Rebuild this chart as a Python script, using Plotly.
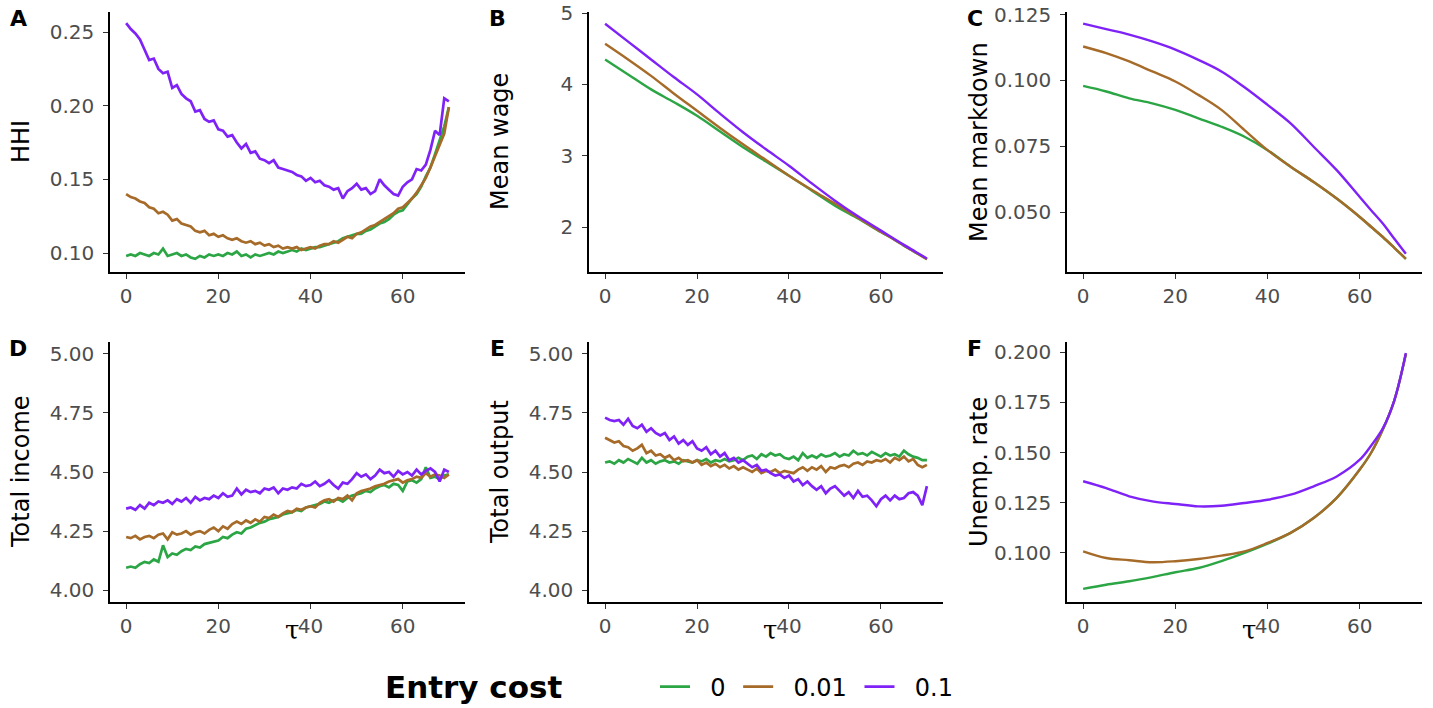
import plotly.graph_objects as go
from plotly.subplots import make_subplots

# entry cost levels and colours
levels = ["0", "0.01", "0.1"]
colors = ["#2CA545", "#A66B28", "#7F22F7"]

tau = list(range(0, 71))
tau_s = [0, 5, 10, 15, 20, 25, 30, 35, 40, 45, 50, 55, 60, 62.5, 65, 67.5, 70]

# A: HHI
hhi_0 = [.098, .099, .098, .100, .099, .098, .100, .099, .103, .098,
         .099, .100, .098, .099, .097, .096, .098, .097, .099, .098,
         .099, .098, .100, .099, .101, .098, .099, .097, .099, .098,
         .099, .100, .099, .101, .100, .101, .102, .101, .103, .102,
         .103, .104, .104, .105, .106, .107, .108, .110, .111, .112,
         .113, .113, .115, .116, .118, .120, .121, .123, .126, .128,
         .129, .133, .137, .140, .145, .152, .158, .167, .176, .186, .199]
hhi_001 = [.140, .138, .137, .135, .134, .131, .130, .127, .128, .126,
           .122, .123, .120, .119, .118, .115, .114, .115, .112, .113,
           .111, .112, .110, .109, .110, .108, .107, .108, .106, .107,
           .105, .106, .104, .105, .103, .104, .103, .104, .102, .103,
           .104, .103, .105, .106, .106, .108, .107, .109, .111, .110,
           .113, .114, .116, .118, .119, .121, .123, .125, .127, .130,
           .131, .134, .137, .141, .146, .151, .158, .166, .174, .181, .199]
hhi_01 = [.256, .252, .249, .245, .238, .231, .232, .225, .222, .223,
          .212, .214, .208, .205, .203, .196, .197, .191, .189, .190,
          .184, .183, .179, .180, .175, .171, .174, .168, .169, .164,
          .163, .161, .163, .158, .157, .156, .155, .153, .152, .149,
          .151, .148, .149, .146, .145, .143, .144, .137, .142, .144,
          .147, .143, .144, .140, .142, .150, .146, .143, .140, .139,
          .145, .148, .150, .157, .156, .160, .170, .183, .180, .205, .203]

# B: mean wage
wage_0 = [4.35, 4.14, 3.93, 3.75, 3.56, 3.34, 3.12, 2.92, 2.72, 2.51, 2.30, 2.12, 1.93, 1.84, 1.74, 1.645, 1.55]
wage_001 = [4.57, 4.35, 4.12, 3.87, 3.63, 3.39, 3.16, 2.94, 2.72, 2.52, 2.33, 2.13, 1.93, 1.84, 1.74, 1.645, 1.55]
wage_01 = [4.85, 4.60, 4.35, 4.10, 3.86, 3.59, 3.33, 3.09, 2.86, 2.61, 2.37, 2.15, 1.95, 1.85, 1.75, 1.655, 1.56]

# C: mean markdown
mark_0 = [.0979, .0958, .0932, .0913, .0888, .0856, .0824, .0786, .0735, .0672, .0614, .0551, .0481, .0443, .0405, .0364, .0322]
mark_001 = [.1129, .1104, .1072, .1034, .0996, .0945, .0888, .0811, .0735, .0672, .0614, .0551, .0481, .0443, .0405, .0364, .0322]
mark_01 = [.1216, .1195, .1174, .1148, .1117, .1078, .1034, .0974, .0907, .0837, .0748, .0659, .0557, .0506, .0456, .0398, .0341]

# D: total income
inc_0 = [4.095, 4.100, 4.095, 4.110, 4.120, 4.115, 4.130, 4.120, 4.190, 4.140,
         4.155, 4.150, 4.165, 4.175, 4.170, 4.185, 4.180, 4.195, 4.200, 4.205,
         4.210, 4.225, 4.220, 4.235, 4.245, 4.240, 4.260, 4.265, 4.275, 4.285,
         4.290, 4.300, 4.305, 4.310, 4.320, 4.325, 4.330, 4.340, 4.335, 4.350,
         4.355, 4.360, 4.365, 4.375, 4.370, 4.380, 4.385, 4.375, 4.390, 4.400,
         4.405, 4.410, 4.420, 4.415, 4.430, 4.440, 4.445, 4.435, 4.450, 4.445,
         4.420, 4.460, 4.465, 4.455, 4.470, 4.520, 4.475, 4.480, 4.470, 4.485, 4.490]
inc_001 = [4.225, 4.220, 4.230, 4.215, 4.225, 4.230, 4.220, 4.235, 4.240, 4.215,
           4.245, 4.235, 4.240, 4.250, 4.235, 4.245, 4.250, 4.240, 4.255, 4.265,
           4.250, 4.270, 4.260, 4.280, 4.290, 4.280, 4.295, 4.285, 4.300, 4.290,
           4.310, 4.305, 4.320, 4.310, 4.325, 4.335, 4.330, 4.345, 4.340, 4.350,
           4.355, 4.350, 4.370, 4.380, 4.385, 4.375, 4.390, 4.385, 4.400, 4.380,
           4.410, 4.420, 4.425, 4.430, 4.440, 4.445, 4.450, 4.460, 4.465, 4.470,
           4.455, 4.465, 4.470, 4.480, 4.475, 4.495, 4.480, 4.490, 4.485, 4.475, 4.490]
inc_01 = [4.345, 4.350, 4.340, 4.360, 4.345, 4.370, 4.360, 4.375, 4.370, 4.380,
          4.365, 4.385, 4.375, 4.390, 4.370, 4.395, 4.380, 4.390, 4.385, 4.400,
          4.390, 4.410, 4.395, 4.400, 4.430, 4.405, 4.425, 4.415, 4.420, 4.410,
          4.430, 4.425, 4.435, 4.410, 4.430, 4.425, 4.435, 4.430, 4.450, 4.440,
          4.445, 4.460, 4.440, 4.450, 4.465, 4.445, 4.430, 4.455, 4.450, 4.470,
          4.495, 4.480, 4.490, 4.470, 4.485, 4.510, 4.495, 4.500, 4.480, 4.505,
          4.490, 4.500, 4.485, 4.510, 4.490, 4.505, 4.515, 4.500, 4.460, 4.510, 4.500]

# E: total output
out_0 = [4.540, 4.545, 4.535, 4.550, 4.540, 4.555, 4.545, 4.535, 4.560, 4.540,
         4.550, 4.535, 4.545, 4.550, 4.540, 4.545, 4.535, 4.550, 4.545, 4.540,
         4.550, 4.545, 4.555, 4.540, 4.550, 4.545, 4.555, 4.545, 4.550, 4.560,
         4.550, 4.565, 4.570, 4.555, 4.575, 4.565, 4.580, 4.570, 4.575, 4.560,
         4.555, 4.565, 4.550, 4.580, 4.560, 4.570, 4.560, 4.575, 4.565, 4.570,
         4.580, 4.565, 4.575, 4.570, 4.590, 4.575, 4.580, 4.570, 4.585, 4.575,
         4.565, 4.580, 4.570, 4.575, 4.565, 4.590, 4.575, 4.565, 4.560, 4.550, 4.550]
out_001 = [4.645, 4.635, 4.625, 4.630, 4.610, 4.605, 4.590, 4.600, 4.615, 4.580,
           4.590, 4.570, 4.575, 4.560, 4.570, 4.550, 4.560, 4.545, 4.550, 4.540,
           4.550, 4.530, 4.540, 4.525, 4.535, 4.520, 4.530, 4.515, 4.525, 4.510,
           4.520, 4.510, 4.500, 4.515, 4.495, 4.505, 4.500, 4.510, 4.495, 4.505,
           4.500, 4.495, 4.510, 4.520, 4.505, 4.520, 4.510, 4.525, 4.500, 4.520,
           4.515, 4.525, 4.530, 4.520, 4.535, 4.540, 4.530, 4.545, 4.540, 4.550,
           4.545, 4.555, 4.540, 4.560, 4.550, 4.565, 4.545, 4.555, 4.530, 4.520, 4.530]
out_01 = [4.730, 4.720, 4.715, 4.720, 4.700, 4.725, 4.695, 4.685, 4.700, 4.670,
          4.685, 4.665, 4.655, 4.665, 4.635, 4.650, 4.620, 4.635, 4.615, 4.630,
          4.600, 4.590, 4.605, 4.575, 4.590, 4.565, 4.580, 4.550, 4.560, 4.540,
          4.550, 4.535, 4.520, 4.530, 4.505, 4.510, 4.495, 4.485, 4.490, 4.475,
          4.485, 4.460, 4.470, 4.445, 4.460, 4.440, 4.425, 4.440, 4.410, 4.430,
          4.440, 4.420, 4.400, 4.415, 4.390, 4.420, 4.395, 4.400, 4.380, 4.355,
          4.385, 4.400, 4.380, 4.400, 4.385, 4.390, 4.410, 4.415, 4.400, 4.360, 4.440]

# F: unemployment rate
unemp_0 = [.0821, .0842, .0859, .0880, .0904, .0925, .0959, .1000, .1046, .1100, .1174, .1274, .1415, .1500, .1614, .1760, .1990]
unemp_001 = [.1008, .0975, .0964, .0954, .0959, .0970, .0987, .1008, .1050, .1100, .1174, .1274, .1415, .1500, .1614, .1760, .1990]
unemp_01 = [.1357, .1323, .1282, .1257, .1244, .1232, .1235, .1249, .1265, .1290, .1332, .1381, .1464, .1535, .1620, .1760, .1995]

panels = [
    ("A", "HHI", tau, [hhi_0, hhi_001, hhi_01], [0.0871, 0.2636], [0.10, 0.15, 0.20, 0.25], ".2f", "linear"),
    ("B", "Mean wage", tau_s, [wage_0, wage_001, wage_01], [1.37, 5.015], [2, 3, 4, 5], "d", "spline"),
    ("C", "Mean markdown", tau_s, [mark_0, mark_001, mark_01], [0.0272, 0.126], [0.05, 0.075, 0.10, 0.125], ".3f", "spline"),
    ("D", "Total income", tau, [inc_0, inc_001, inc_01], [3.95, 5.05], [4.0, 4.25, 4.5, 4.75, 5.0], ".2f", "linear"),
    ("E", "Total output", tau, [out_0, out_001, out_01], [3.95, 5.05], [4.0, 4.25, 4.5, 4.75, 5.0], ".2f", "linear"),
    ("F", "Unemp. rate", tau_s, [unemp_0, unemp_001, unemp_01], [0.0756, 0.205], [0.1, 0.125, 0.15, 0.175, 0.2], ".3f", "spline"),
]

# page body margin is removed after drawing (post_script), so the figure fills the window
FW, FH = 1433, 708


def px(x):
    return x / FW


def py(y):
    return 1 - y / FH


xdoms = [(110, 465), (589, 943), (1067, 1422)]
ydoms = [(12, 272), (342, 602)]
title_x = [21, 500, 979]
letter_x = [18, 497, 975]

fig = make_subplots(rows=2, cols=3)
FONT = "DejaVu Sans"
annots = []

for i, (letter, ytitle, xs, series, yr, yticks, fmt, shape) in enumerate(panels):
    r, c = i // 3, i % 3
    lw = 2.7 if shape == "linear" else 2.4
    for k in range(3):
        fig.add_trace(go.Scatter(x=xs, y=series[k], mode="lines",
                                 name="\u00a0\u00a0" + levels[k] + "\u00a0",
                                 line=dict(color=colors[k], width=lw, shape=shape),
                                 showlegend=(i == 0), legendgroup=levels[k]),
                      row=r + 1, col=c + 1)
    x0, x1 = xdoms[c]
    y0, y1 = ydoms[r]
    axis_common = dict(showline=True, linecolor="black", linewidth=1.5, ticks="outside",
                       ticklen=5, tickwidth=1.3, tickcolor="#333333", showgrid=False,
                       zeroline=False, ticklabeloverflow="allow",
                       tickfont=dict(family=FONT, size=20, color="#4D4D4D"))
    fig.update_xaxes(domain=[px(x0), px(x1)], range=[-3.5, 73.5], tickvals=[0, 20, 40, 60],
                     ticklabelstandoff=0, row=r + 1, col=c + 1, **axis_common)
    fig.update_yaxes(domain=[py(y1), py(y0)], range=yr, tickvals=yticks, tickformat=fmt,
                     ticklabelstandoff=5, row=r + 1, col=c + 1, **axis_common)
    ymid = (y0 + y1) / 2
    annots.append(dict(x=px(title_x[c]), y=py(ymid), xref="paper", yref="paper",
                       text=ytitle, textangle=-90, showarrow=False, xanchor="center", yanchor="middle",
                       font=dict(family=FONT, size=24, color="black")))
    annots.append(dict(x=px(letter_x[c]), y=py(y0 + 6), xref="paper", yref="paper",
                       text="<b>" + letter + "</b>", showarrow=False, xanchor="center", yanchor="middle",
                       font=dict(family=FONT, size=22, color="black")))
    if r == 1:
        annots.append(dict(x=px((x0 + x1) / 2 + 4), y=py(630), xref="paper", yref="paper",
                           text="τ", showarrow=False, xanchor="center", yanchor="middle",
                           font=dict(family="DejaVu Serif", size=26, color="black")))

# legend title as its own text, left of the legend items
annots.append(dict(x=px(383), y=py(687), xref="paper", yref="paper", text="<b>Entry cost</b>",
                   showarrow=False, xanchor="left", yanchor="middle",
                   font=dict(family=FONT, size=31, color="black")))

fig.update_layout(
    width=FW, height=FH,
    margin=dict(l=0, r=0, t=0, b=0, autoexpand=False),
    paper_bgcolor="white", plot_bgcolor="white",
    annotations=annots,
    legend=dict(orientation="h", x=px(655), xanchor="left", y=py(687), yanchor="middle",
                font=dict(family=FONT, size=24, color="black"), bgcolor="rgba(0,0,0,0)"),
)

fig.write_html("out.html", config={"displayModeBar": False},
               post_script="document.body.style.margin='0px'; document.body.style.overflow='hidden';")
